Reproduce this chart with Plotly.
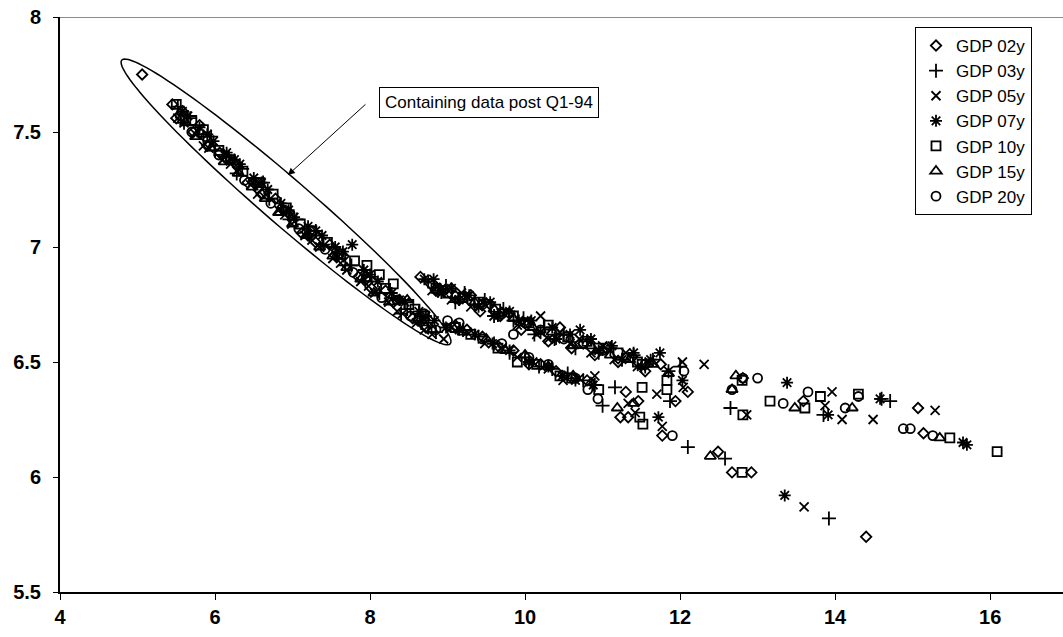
import math
import plotly.graph_objects as go

# ---------------- data ----------------
series_names = ["GDP 02y", "GDP 03y", "GDP 05y", "GDP 07y", "GDP 10y", "GDP 15y", "GDP 20y"]

x_02 = [5.06, 5.45, 5.50, 5.58, 5.72, 5.80, 5.90, 6.06, 6.15, 6.25, 6.42, 6.50, 6.60, 6.78, 6.88, 6.95, 7.12, 7.20, 7.30, 7.48,
        7.58, 7.66, 7.85, 7.95, 8.02, 8.20, 8.30, 8.38, 8.55, 8.62, 8.72,
        8.65, 8.78, 8.85, 9.05, 9.15, 9.30, 9.42, 9.55, 9.68, 9.80, 9.95, 10.05, 10.30, 10.45, 10.60, 10.75, 10.90, 11.05,
        11.20, 11.38, 11.55, 11.75, 12.10, 12.81, 13.59, 15.07, 15.14,
        9.10, 9.25, 9.45, 9.65, 9.85, 10.05, 10.20, 10.40, 10.60, 10.80, 11.30, 11.46, 11.23, 11.33, 11.77, 12.49, 12.67,
        12.92, 14.40, 11.94]
y_02 = [7.75, 7.62, 7.56, 7.59, 7.50, 7.53, 7.44, 7.41, 7.38, 7.37, 7.28, 7.28, 7.23, 7.21, 7.16, 7.15, 7.06, 7.05, 7.02, 7.01,
        6.96, 6.96, 6.87, 6.86, 6.82, 6.81, 6.76, 6.77, 6.69, 6.68, 6.65,
        6.87, 6.84, 6.81, 6.82, 6.77, 6.79, 6.72, 6.75, 6.70, 6.71, 6.64, 6.67, 6.59, 6.65, 6.56, 6.58, 6.53, 6.56,
        6.50, 6.52, 6.46, 6.49, 6.37, 6.43, 6.33, 6.30, 6.19,
        6.66, 6.64, 6.61, 6.57, 6.55, 6.49, 6.49, 6.46, 6.43, 6.42, 6.37, 6.33, 6.26, 6.26, 6.18, 6.11, 6.02,
        6.02, 5.74, 6.33]

x_03 = [5.52, 5.60, 5.68, 5.85, 5.95, 6.00, 6.18, 6.28, 6.35, 6.52, 6.62, 6.70, 6.88, 6.96, 7.05, 7.22, 7.30, 7.40, 7.58,
        7.68, 7.76, 7.94, 8.02, 8.12, 8.30, 8.40, 8.48, 8.66, 8.75, 8.85,
        8.75, 8.88, 8.98, 9.10, 9.22, 9.35, 9.48, 9.60, 9.72, 9.85, 9.98, 10.12, 10.25, 10.38, 10.50, 10.65, 10.80, 10.95,
        11.10, 11.25, 11.40, 11.55, 11.65, 11.85, 12.00, 13.85, 14.71, 14.60,
        9.20, 9.40, 9.60, 9.80, 10.00, 10.18, 10.35, 10.55, 10.75, 10.90, 11.00, 11.16, 11.87, 12.10, 12.58, 12.65, 13.92]
y_03 = [7.61, 7.54, 7.56, 7.48, 7.48, 7.42, 7.39, 7.32, 7.34, 7.27, 7.28, 7.21, 7.17, 7.12, 7.12, 7.05, 7.07, 7.01, 6.97,
        6.92, 6.92, 6.85, 6.87, 6.80, 6.78, 6.71, 6.73, 6.67, 6.67, 6.63,
        6.85, 6.81, 6.83, 6.76, 6.80, 6.75, 6.77, 6.70, 6.73, 6.68, 6.69, 6.62, 6.65, 6.60, 6.62, 6.56, 6.59, 6.54,
        6.56, 6.51, 6.53, 6.48, 6.51, 6.46, 6.48, 6.27, 6.33, 6.34,
        6.64, 6.61, 6.58, 6.54, 6.52, 6.48, 6.47, 6.45, 6.42, 6.40, 6.31, 6.39, 6.33, 6.13, 6.08, 6.30, 5.82]

x_05 = [5.52, 5.60, 5.75, 5.85, 5.92, 6.10, 6.20, 6.28, 6.46, 6.55, 6.63, 6.82, 6.90, 6.99, 7.16, 7.25, 7.35, 7.52, 7.62,
        7.70, 7.88, 7.98, 8.06, 8.24, 8.35, 8.42, 8.60, 8.70, 8.80, 8.95,
        8.80, 8.92, 9.05, 9.18, 9.30, 9.45, 9.60, 9.75, 9.90, 10.02, 10.15, 10.20, 10.30, 10.45, 10.58, 10.70, 10.85, 11.00,
        11.15, 11.30, 11.45, 11.60, 11.85, 12.03, 12.31, 12.86, 13.96, 13.87, 14.09, 14.49, 15.29,
        9.05, 9.25, 9.48, 9.70, 9.90, 10.10, 10.30, 10.49, 10.70, 10.90, 11.33, 11.42, 11.70, 12.04, 11.77, 13.60]
y_05 = [7.56, 7.54, 7.49, 7.44, 7.43, 7.38, 7.36, 7.33, 7.27, 7.23, 7.22, 7.16, 7.14, 7.10, 7.05, 7.03, 7.00, 6.95, 6.93,
        6.90, 6.85, 6.83, 6.80, 6.76, 6.72, 6.71, 6.67, 6.64, 6.62, 6.60,
        6.81, 6.82, 6.77, 6.80, 6.74, 6.76, 6.70, 6.72, 6.66, 6.68, 6.62, 6.70, 6.60, 6.63, 6.58, 6.60, 6.54, 6.57,
        6.51, 6.54, 6.48, 6.50, 6.46, 6.50, 6.49, 6.27, 6.37, 6.31, 6.25, 6.25, 6.29,
        6.65, 6.63, 6.58, 6.56, 6.52, 6.50, 6.47, 6.42, 6.43, 6.44, 6.32, 6.28, 6.36, 6.39, 6.22, 5.87]

x_07 = [5.58, 5.65, 5.80, 5.90, 5.98, 6.15, 6.25, 6.32, 6.50, 6.60, 6.68, 6.85, 6.95, 7.02, 7.20, 7.30, 7.38, 7.55, 7.65,
        7.77, 7.92, 8.00, 8.10, 8.28, 8.38, 8.45, 8.63, 8.72, 8.83, 8.98,
        8.70, 8.82, 8.92, 9.05, 9.15, 9.28, 9.40, 9.55, 9.65, 9.80, 9.92, 10.08, 10.20, 10.35, 10.40, 10.58, 10.71, 10.85,
        10.95, 11.12, 11.25, 11.40, 11.50, 11.62, 11.74, 12.03, 13.38, 14.58, 15.65, 15.70,
        9.15, 9.35, 9.58, 9.80, 10.05, 10.30, 10.48, 10.65, 10.88, 11.72, 13.91, 13.35]
y_07 = [7.59, 7.57, 7.52, 7.49, 7.46, 7.41, 7.38, 7.36, 7.30, 7.28, 7.25, 7.19, 7.16, 7.13, 7.09, 7.07, 7.05, 7.00, 6.98,
        7.01, 6.90, 6.88, 6.85, 6.80, 6.77, 6.76, 6.72, 6.70, 6.68, 6.65,
        6.86, 6.86, 6.80, 6.82, 6.77, 6.79, 6.74, 6.76, 6.70, 6.72, 6.68, 6.68, 6.63, 6.65, 6.60, 6.62, 6.64, 6.60,
        6.55, 6.57, 6.51, 6.54, 6.48, 6.51, 6.54, 6.42, 6.41, 6.34, 6.15, 6.14,
        6.64, 6.62, 6.58, 6.55, 6.50, 6.48, 6.44, 6.42, 6.40, 6.26, 6.27, 5.92]

x_10 = [5.50, 5.70, 5.85, 6.05, 6.20, 6.36, 6.58, 6.75, 6.92, 7.10, 7.25, 7.45, 7.62, 7.80, 7.96, 8.12, 8.20, 8.30, 8.50,
        8.58, 8.70,
        8.85, 9.00, 9.20, 9.40, 9.62, 9.85, 10.05, 10.30, 10.55, 10.80, 10.95, 11.20, 11.45, 11.51, 11.83, 11.83, 12.80,
        13.16, 13.61, 13.81, 14.30, 15.48, 16.09,
        9.10, 9.30, 9.65, 9.90, 10.15, 10.45, 10.60, 10.95, 11.51, 11.48, 11.52, 12.81, 12.80]
y_10 = [7.62, 7.55, 7.51, 7.42, 7.38, 7.33, 7.28, 7.23, 7.17, 7.10, 7.07, 7.02, 6.97, 6.94, 6.92, 6.88, 6.82, 6.84, 6.75,
        6.73, 6.70,
        6.82, 6.80, 6.78, 6.76, 6.73, 6.70, 6.67, 6.66, 6.61, 6.59, 6.56, 6.54, 6.50, 6.49, 6.42, 6.38, 6.42,
        6.33, 6.30, 6.35, 6.36, 6.17, 6.11,
        6.65, 6.62, 6.56, 6.50, 6.49, 6.44, 6.43, 6.38, 6.39, 6.26, 6.23, 6.27, 6.02]

x_15 = [5.62, 5.75, 5.95, 6.12, 6.30, 6.48, 6.65, 6.82, 7.00, 7.18, 7.35, 7.52, 7.70, 7.88, 8.05, 8.25, 8.48, 8.62, 8.68,
        8.80,
        8.90, 9.10, 9.35, 9.60, 9.85, 10.10, 10.35, 10.62, 10.85, 11.10, 11.35, 11.65, 11.85, 12.72, 12.67, 13.48, 14.22, 15.35,
        9.20, 9.50, 9.75, 10.00, 10.30, 10.62, 10.85, 11.19, 11.40, 12.39]
y_15 = [7.54, 7.48, 7.43, 7.37, 7.32, 7.26, 7.21, 7.15, 7.10, 7.05, 7.00, 6.96, 6.91, 6.86, 6.80, 6.76, 6.77, 6.69, 6.67,
        6.64,
        6.82, 6.79, 6.76, 6.73, 6.69, 6.65, 6.63, 6.57, 6.57, 6.53, 6.51, 6.49, 6.45, 6.44, 6.38, 6.30, 6.30, 6.17,
        6.63, 6.60, 6.55, 6.53, 6.48, 6.44, 6.41, 6.30, 6.32, 6.09]

x_20 = [5.55, 5.70, 5.88, 6.05, 6.20, 6.38, 6.55, 6.72, 6.90, 7.08, 7.25, 7.42, 7.60, 7.78, 7.95, 8.15, 8.35, 8.52, 8.70,
        8.85, 9.00,
        8.95, 9.20, 9.45, 9.70, 9.85, 10.00, 10.20, 10.50, 10.75, 11.00, 11.30, 11.55, 12.05, 12.81, 13.00, 13.65, 14.13,
        14.30, 14.88, 14.97, 15.26,
        9.15, 9.45, 9.70, 10.05, 10.30, 10.65, 10.81, 10.94, 11.90, 13.33, 12.67]
y_20 = [7.57, 7.50, 7.48, 7.40, 7.38, 7.29, 7.28, 7.19, 7.16, 7.08, 7.07, 6.99, 6.97, 6.89, 6.87, 6.78, 6.77, 6.70, 6.71,
        6.64, 6.68,
        6.81, 6.78, 6.75, 6.71, 6.62, 6.67, 6.64, 6.60, 6.58, 6.55, 6.52, 6.49, 6.46, 6.43, 6.43, 6.37, 6.30,
        6.35, 6.21, 6.21, 6.18,
        6.67, 6.60, 6.58, 6.52, 6.49, 6.43, 6.38, 6.34, 6.18, 6.32, 6.38]

x_tick_vals = [4, 6, 8, 10, 12, 14, 16]
y_tick_vals = [5.5, 6, 6.5, 7, 7.5, 8]

annotation_text = "Containing data post Q1-94"

# ---------------- figure ----------------
W, H = 1063, 637
M_L, M_R, M_T, M_B = 60, 0, 17, 45
X_RANGE = [4, 16.94]
Y_RANGE = [5.5, 8]

xs = [x_02, x_03, x_05, x_07, x_10, x_15, x_20]
ys = [y_02, y_03, y_05, y_07, y_10, y_15, y_20]
symbols = ["diamond-open", "cross-thin-open", "x-thin-open", "asterisk-open",
           "square-open", "triangle-up-open", "circle-open"]
sizes = [8, 10, 9, 10, 9, 10, 9]

fig = go.Figure()
for name, x, y, sym, sz in zip(series_names, xs, ys, symbols, sizes):
    fig.add_trace(go.Scatter(
        x=x, y=y, mode="markers", name=name,
        marker=dict(symbol=sym, size=sz, color="black",
                    line=dict(color="black", width=1.8)),
    ))

# pixel scale of the plot area (for the rotated ellipse)
px_per_x = (W - M_L - M_R) / (X_RANGE[1] - X_RANGE[0])
px_per_y = (H - M_T - M_B) / (Y_RANGE[1] - Y_RANGE[0])

# ellipse around the post Q1-94 data
cx, cy = 6.916, 7.196        # centre (data units)
a_px, b_px = 217, 23         # semi axes in pixels
ang = math.radians(-40.8)    # rotation (screen: down-right)
pts = []
for k in range(0, 121):
    t = 2 * math.pi * k / 120
    ex = a_px * math.cos(t)
    ey = b_px * math.sin(t)
    rx = ex * math.cos(ang) - ey * math.sin(ang)
    ry = ex * math.sin(ang) + ey * math.cos(ang)
    pts.append((cx + rx / px_per_x, cy + ry / px_per_y))
path = "M " + " L ".join(f"{px:.4f},{py:.4f}" for px, py in pts) + " Z"
fig.add_shape(type="path", path=path, xref="x", yref="y",
              line=dict(color="black", width=1.5))

# grey top border line
fig.add_shape(type="line", xref="paper", yref="y", x0=0, x1=1, y0=8, y1=8,
              line=dict(color="#8c8c8c", width=2))

# callout box
fig.add_annotation(x=8.12, y=7.63, xref="x", yref="y", text=annotation_text,
                   showarrow=False, xanchor="left", yanchor="middle",
                   font=dict(family="Liberation Sans, Arial", size=17, color="black"),
                   bordercolor="black", borderwidth=1, borderpad=5, bgcolor="white")
# arrow
fig.add_annotation(x=6.94, y=7.313, xref="x", yref="y",
                   ax=7.96, ay=7.626, axref="x", ayref="y",
                   text="", showarrow=True, arrowhead=2, arrowsize=1.4,
                   arrowwidth=1, arrowcolor="black")

tick_font = dict(family="Liberation Sans, Arial", size=20, color="black", weight="bold")

fig.update_layout(
    width=W, height=H,
    margin=dict(l=M_L, r=M_R, t=M_T, b=M_B, pad=0),
    paper_bgcolor="white", plot_bgcolor="white",
    showlegend=True,
    legend=dict(x=(915 - M_L) / (W - M_L - M_R), y=(H - M_B - 27) / (H - M_T - M_B),
                xanchor="left", yanchor="top",
                bordercolor="black", borderwidth=1, bgcolor="white",
                font=dict(family="Liberation Sans, Arial", size=17, color="black"),
                tracegroupgap=0, itemwidth=30),
    xaxis=dict(range=X_RANGE, tickvals=x_tick_vals, showgrid=False, zeroline=False,
               showline=True, linecolor="black", linewidth=2,
               ticks="outside", ticklen=6, tickcolor="black", tickwidth=1,
               tickfont=tick_font),
    yaxis=dict(range=Y_RANGE, tickvals=y_tick_vals, showgrid=False, zeroline=False,
               showline=True, linecolor="black", linewidth=2,
               ticks="outside", ticklen=5, tickcolor="black", tickwidth=1,
               tickfont=tick_font, ticklabelstandoff=8),
)

fig.write_html("out.html")
